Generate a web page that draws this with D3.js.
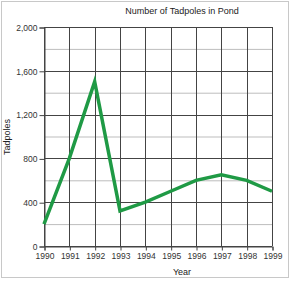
<!DOCTYPE html>
<html><head><meta charset="utf-8">
<script src="https://cdn.jsdelivr.net/npm/d3@7"></script>
<style>body{margin:0;background:#fff}svg{display:block}</style>
</head><body>
<script>
const years = [1990,1991,1992,1993,1994,1995,1996,1997,1998,1999];
const tadpoles = [200,800,1500,320,400,500,600,650,600,500];
const yTicks = [0,400,800,1200,1600,2000];
const yMinor = [200,600,1000,1400,1800];
const title = "Number of Tadpoles in Pond";
const xTitle = "Year";
const yTitle = "Tadpoles";

const W=291,H=281;
const svg=d3.select("body").append("svg").attr("width",W).attr("height",H);
svg.append("rect").attr("x",1.5).attr("y",1.5).attr("width",W-4).attr("height",H-5)
  .attr("fill","#fff").attr("stroke","#c8c8c8").attr("stroke-width",1);
const L=44,R=272,T=27,B=246;
const x=d3.scaleLinear().domain([1990,1999]).range([L,R]);
const y=d3.scaleLinear().domain([0,2000]).range([B,T]);
const font="Liberation Sans, Arial, sans-serif";

svg.append("g").selectAll("line").data(yMinor).join("line")
  .attr("x1",L).attr("x2",R).attr("y1",d=>y(d)+0.5).attr("y2",d=>y(d)+0.5)
  .attr("stroke","#bdbdbd").attr("stroke-width",1);
svg.append("g").selectAll("line").data(yTicks).join("line")
  .attr("x1",L).attr("x2",R).attr("y1",d=>Math.round(y(d))+0.5).attr("y2",d=>Math.round(y(d))+0.5)
  .attr("stroke","#444").attr("stroke-width",1);
svg.append("g").selectAll("line").data(years).join("line")
  .attr("x1",d=>Math.round(x(d))+0.5).attr("x2",d=>Math.round(x(d))+0.5).attr("y1",T).attr("y2",B)
  .attr("stroke","#444").attr("stroke-width",1);

const ya=svg.append("g").attr("transform",`translate(${L+0.5},0.5)`)
  .call(d3.axisLeft(y).tickValues(yTicks).tickFormat(d3.format(",")).tickSize(5).tickPadding(2));
const xa=svg.append("g").attr("transform",`translate(0.5,${B+0.5})`)
  .call(d3.axisBottom(x).tickValues(years).tickFormat(d3.format("d")).tickSize(4).tickPadding(2));
[ya,xa].forEach(a=>{a.select(".domain").attr("stroke","#444");
  a.selectAll(".tick line").attr("stroke","#444");
  a.selectAll("text").attr("font-family",font).attr("font-size",8.5).attr("fill","#333");});

svg.append("path").datum(years.map((yr,i)=>[yr,tadpoles[i]]))
  .attr("d",d3.line().x(d=>x(d[0])).y(d=>y(d[1])))
  .attr("fill","none").attr("stroke","#1f9a45").attr("stroke-width",3.5)
  .attr("stroke-linejoin","miter");

svg.append("text").attr("x",182).attr("y",14).attr("text-anchor","middle")
  .attr("font-family",font).attr("font-size",9).attr("fill","#222").text(title);
svg.append("text").attr("x",182).attr("y",275).attr("text-anchor","middle")
  .attr("font-family",font).attr("font-size",9).attr("fill","#222").text(xTitle);
svg.append("text").attr("transform","translate(10,137) rotate(-90)").attr("text-anchor","middle")
  .attr("font-family",font).attr("font-size",9).attr("fill","#222").text(yTitle);
</script>
</body></html>
